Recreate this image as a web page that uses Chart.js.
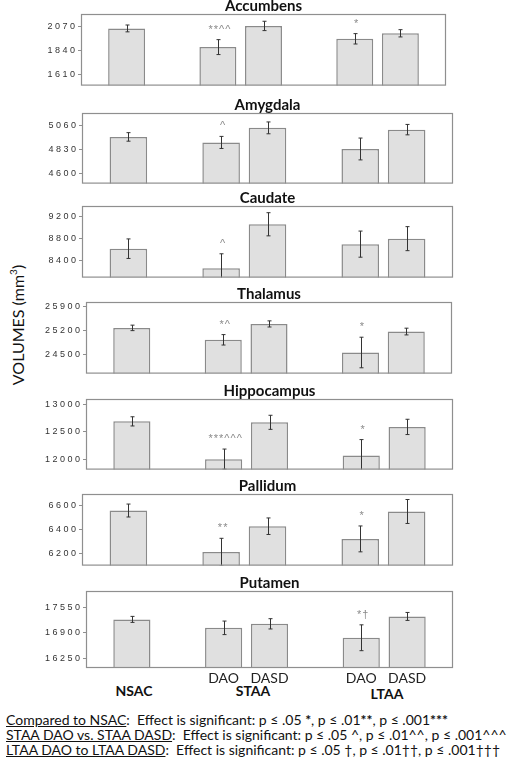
<!DOCTYPE html>
<html>
<head>
<meta charset="utf-8">
<script src="https://cdn.jsdelivr.net/npm/chart.js@4"></script>
<style>
  body { margin: 0; background: #fff; }
  #wrap { position: relative; width: 511px; height: 769px; overflow: hidden; font-family: Lato, sans-serif; color: #111; }
  canvas { position: absolute; left: 0; }
  .ylab { position: absolute; left: 17px; top: 325px; transform: translate(-50%, -50%) rotate(-90deg); font-size: 16px; white-space: nowrap; }
  .grp { position: absolute; font-weight: bold; font-size: 14px; line-height: 1; transform: translate(-50%, -50%); }
  .note { position: absolute; left: 6px; font-size: 14px; line-height: 15px; white-space: nowrap; }
</style>
</head>
<body>
<div id="wrap">
  <div class="ylab">VOLUMES (mm<sup style="font-size:10px">3</sup>)</div>
  <div class="grp" style="left:134px;top:691px">NSAC</div>
  <div class="grp" style="left:253px;top:691px">STAA</div>
  <div class="grp" style="left:387px;top:694px">LTAA</div>
  <div class="note" style="top:712px"><u>Compared to NSAC</u>:&nbsp; Effect is significant: p ≤ .05 <b>*</b>, p ≤ .01<b>**</b>, p ≤ .001<b>***</b></div>
  <div class="note" style="top:727px"><u>STAA DAO vs. STAA DASD</u>:&nbsp; Effect is significant: p ≤ .05 ^, p ≤ .01^^, p ≤ .001^^^</div>
  <div class="note" style="top:742px"><u>LTAA DAO to LTAA DASD</u>:&nbsp; Effect is significant: p ≤ .05 †, p ≤ .01††, p ≤ .001†††</div>
</div>
<script>
// groups: NSAC, STAA DAO, STAA DASD, LTAA DAO, LTAA DASD
const groups = ['NSAC', 'STAA DAO', 'STAA DASD', 'LTAA DAO', 'LTAA DASD'];
const xLabels = ['', '', '', 'DAO', 'DASD', '', 'DAO', 'DASD', ''];
const slots = [1, 3, 4, 6, 7];
const regions = ['Accumbens', 'Amygdala', 'Caudate', 'Thalamus', 'Hippocampus', 'Pallidum', 'Putamen'];

const means = [
  [2055, 1875, 2079, 1955, 2008],
  [4955, 4902, 5042, 4839, 5025],
  [8622, 8267, 9067, 8705, 8805],
  [25279, 24936, 25393, 24571, 25174],
  [12689, 12007, 12672, 12073, 12589],
  [6562, 6215, 6431, 6325, 6554],
  [17244, 17027, 17130, 16772, 17320]
];
const errors = [
  [33, 72, 45, 50, 35],
  [41, 58, 57, 105, 50],
  [178, 262, 211, 238, 219],
  [79, 150, 88, 440, 97],
  [83, 182, 127, 287, 138],
  [54, 115, 69, 108, 100],
  [77, 174, 132, 332, 102]
];
const marks = [
  ['', '**^^', '', '*', ''],
  ['', '^', '', '', ''],
  ['', '^', '', '', ''],
  ['', '*^', '', '*', ''],
  ['', '***^^^', '', '*', ''],
  ['', '**', '', '*', ''],
  ['', '', '', '*†', '']
];
const yTicks = [
  [1610, 1840, 2070],
  [4600, 4830, 5060],
  [8400, 8800, 9200],
  [24500, 25200, 25900],
  [12000, 12500, 13000],
  [6200, 6400, 6600],
  [16250, 16900, 17550]
];
const yMin = [1504, 4506, 8095, 23964, 11818, 6102, 15995];
const yMax = [2194, 5185, 9400, 26024, 13093, 6700, 17973];

// panel plot boxes on the page: left, right, top, bottom
const boxes = [
  [81, 446, 14, 92],
  [82, 453, 113, 190],
  [82, 453, 206, 284],
  [86, 452, 302, 380],
  [86, 453, 399, 476],
  [82, 453, 494, 572],
  [86, 453, 591, 668]
];

const wrap = document.getElementById('wrap');

function extras(p) {
  return {
    id: 'extras' + p,
    afterDatasetsDraw(chart) {
      const { ctx, chartArea: a, scales: { x, y } } = chart;
      ctx.save();
      ctx.beginPath();
      ctx.rect(a.left, a.top, a.right - a.left, a.bottom - a.top);
      ctx.clip();
      ctx.strokeStyle = '#333';
      ctx.lineWidth = 1;
      means[p].forEach((m, i) => {
        const px = Math.round(x.getPixelForValue(slots[i])) + 0.5;
        const top = y.getPixelForValue(m + errors[p][i]);
        const bot = y.getPixelForValue(m - errors[p][i]);
        ctx.beginPath();
        ctx.moveTo(px, top); ctx.lineTo(px, bot);
        ctx.moveTo(px - 2, top); ctx.lineTo(px + 2, top);
        ctx.moveTo(px - 2, bot); ctx.lineTo(px + 2, bot);
        ctx.stroke();
      });
      ctx.restore();

      ctx.save();
      ctx.strokeStyle = '#8f8f8f';
      ctx.lineWidth = 1.2;
      ctx.strokeRect(a.left + 0.5, a.top + 0.5, a.right - a.left - 1, a.bottom - a.top - 1);
      ctx.fillStyle = '#8a8a8a';
      ctx.font = '11px "Liberation Sans"';
      ctx.textAlign = 'center';
      ctx.letterSpacing = '1px';
      marks[p].forEach((t, i) => {
        if (!t) return;
        const px = x.getPixelForValue(slots[i]) + 2;
        const top = y.getPixelForValue(means[p][i] + errors[p][i]);
        ctx.fillText(t, px, top - 7);
      });
      ctx.restore();
    }
  };
}

regions.forEach((name, p) => {
  const [L, R, T, B] = boxes[p];
  const last = p === regions.length - 1;
  const xH = last ? 20 : 0;
  const padB = last ? 0 : 2;
  const cv = document.createElement('canvas');
  cv.width = 511;
  cv.height = 15 + (B - T) + xH + padB;
  cv.style.top = (T - 15) + 'px';
  wrap.appendChild(cv);

  const data = xLabels.map(() => null);
  slots.forEach((s, i) => { data[s] = means[p][i]; });

  new Chart(cv.getContext('2d'), {
    type: 'bar',
    data: {
      labels: xLabels,
      datasets: [{
        label: name,
        data: data,
        backgroundColor: '#e0e0e0',
        borderColor: '#8a8a8a',
        borderWidth: 1.5,
        categoryPercentage: 1,
        barPercentage: 0.81
      }]
    },
    options: {
      responsive: false,
      animation: false,
      layout: { padding: { left: 0, right: 511 - R, top: 0, bottom: padB } },
      plugins: {
        legend: { display: false },
        tooltip: { enabled: false },
        title: {
          display: true,
          text: name,
          fullSize: false,
          color: '#111',
          padding: 0,
          font: { family: 'Lato', weight: 'bold', size: 15, lineHeight: 1 }
        }
      },
      scales: {
        x: {
          display: last,
          offset: false,
          grid: { display: false, drawTicks: false, tickLength: 0 },
          border: { display: false },
          ticks: {
            autoSkip: false, maxRotation: 0, padding: 2, color: '#222',
            font: { family: 'Lato', size: 14 }
          },
          afterFit: s => { s.height = xH; }
        },
        y: {
          min: yMin[p],
          max: yMax[p],
          afterBuildTicks: s => { s.ticks = yTicks[p].map(v => ({ value: v })); },
          afterFit: s => { s.width = L; },
          border: { display: false },
          grid: { drawOnChartArea: false, tickLength: 3, color: '#8f8f8f' },
          ticks: {
            padding: 3, color: '#333',
            font: { family: 'Liberation Sans', size: 9 },
            callback: v => String(v).split('').join(' ')
          }
        }
      }
    },
    plugins: [extras(p)]
  });
});
</script>
</body>
</html>
